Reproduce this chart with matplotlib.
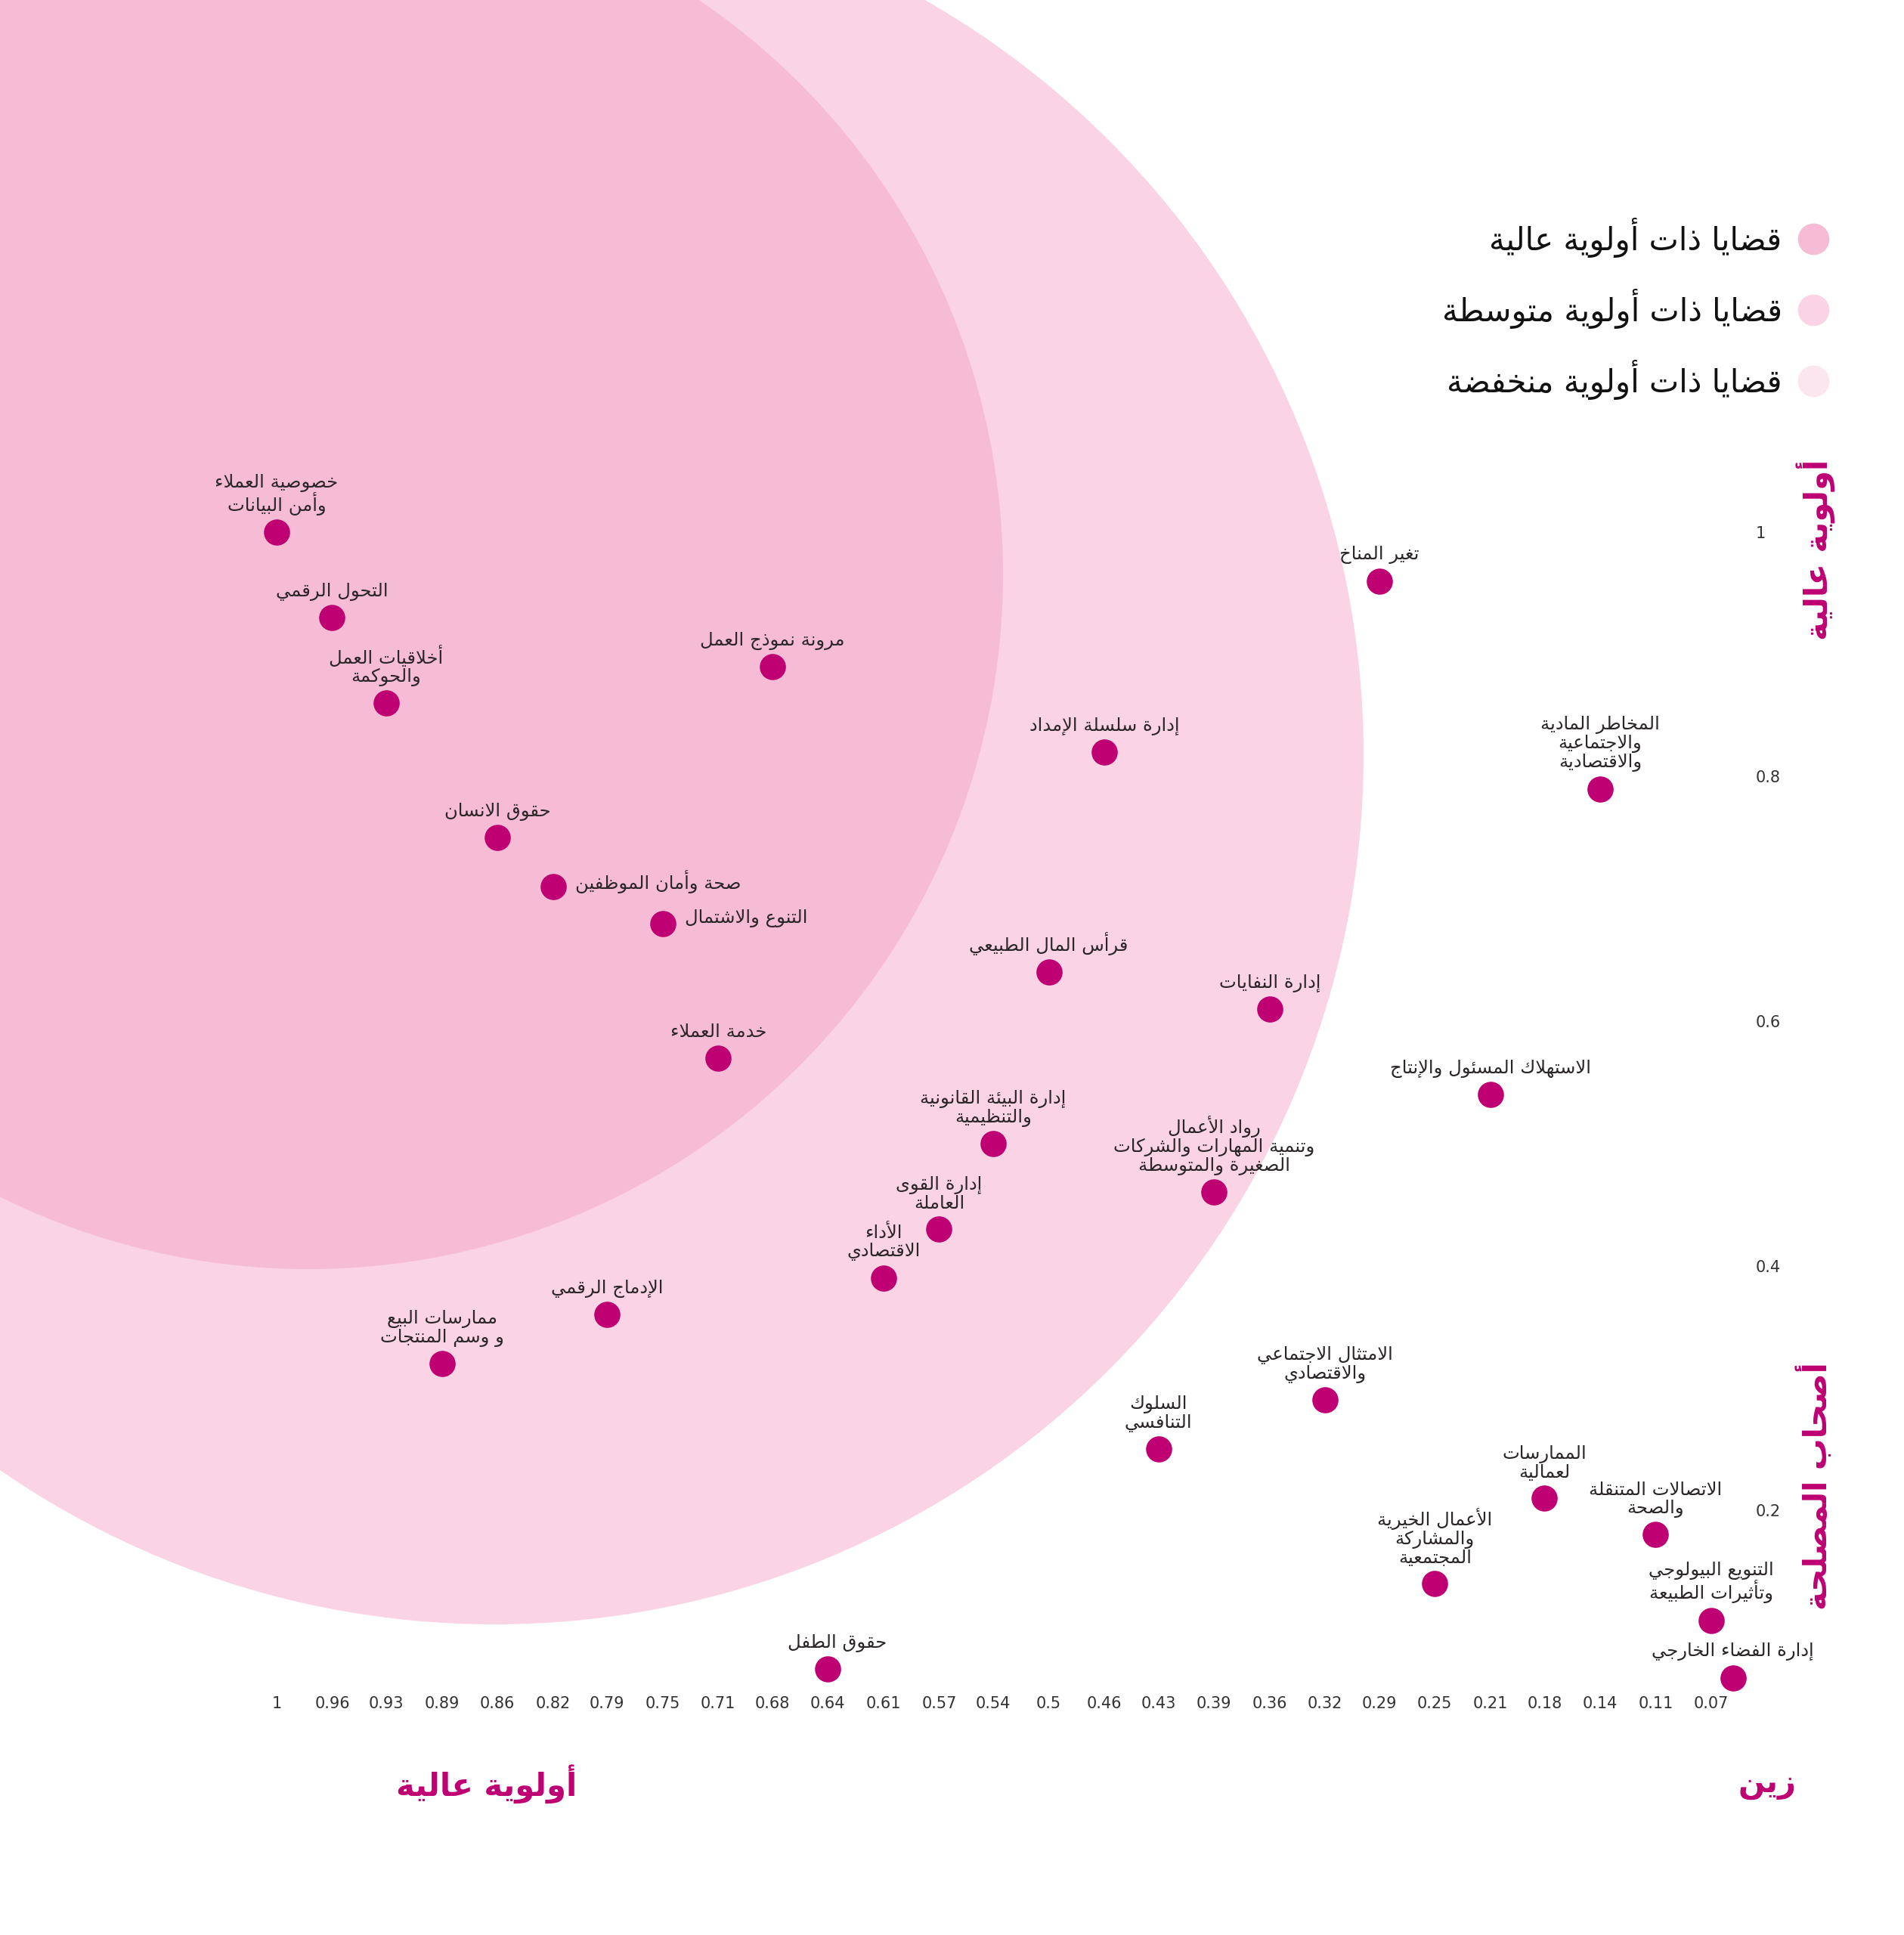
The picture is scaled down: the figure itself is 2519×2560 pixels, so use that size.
import matplotlib
matplotlib.use('Agg')
import matplotlib.pyplot as plt
from matplotlib.patches import Ellipse
from matplotlib.lines import Line2D

plt.rcParams['font.family'] = ['DejaVu Sans']

#%% data: materiality matrix (x = importance to Zain, y = importance to stakeholders)
issues = [
    'خصوصية العملاء\nوأمن البيانات',
    'التحول الرقمي',
    'أخلاقيات العمل\nوالحوكمة',
    'ممارسات البيع\nو وسم المنتجات',
    'حقوق الانسان',
    'صحة وأمان الموظفين',
    'الإدماج الرقمي',
    'التنوع والاشتمال',
    'خدمة العملاء',
    'مرونة نموذج العمل',
    'حقوق الطفل',
    'الأداء\nالاقتصادي',
    'إدارة القوى\nالعاملة',
    'إدارة البيئة القانونية\nوالتنظيمية',
    'قرأس المال الطبيعي',
    'إدارة سلسلة الإمداد',
    'السلوك\nالتنافسي',
    'رواد الأعمال\nوتنمية المهارات والشركات\nالصغيرة والمتوسطة',
    'إدارة النفايات',
    'الامتثال الاجتماعي\nوالاقتصادي',
    'تغير المناخ',
    'الأعمال الخيرية\nوالمشاركة\nالمجتمعية',
    'الاستهلاك المسئول والإنتاج',
    'الممارسات\nلعمالية',
    'المخاطر المادية\nوالاجتماعية\nوالاقتصادية',
    'الاتصالات المتنقلة\nوالصحة',
    'التنويع البيولوجي\nوتأثيرات الطبيعة',
    'إدارة الفضاء الخارجي',
]
zain = [1.0, 0.964, 0.929, 0.893, 0.857, 0.821, 0.786, 0.75, 0.714, 0.679,
        0.643, 0.607, 0.571, 0.536, 0.5, 0.464, 0.429, 0.393, 0.357, 0.321,
        0.286, 0.25, 0.214, 0.179, 0.143, 0.107, 0.071, 0.057]
stakeholders = [1.0, 0.93, 0.86, 0.32, 0.75, 0.71, 0.36, 0.68, 0.57, 0.89,
                0.07, 0.39, 0.43, 0.50, 0.64, 0.82, 0.25, 0.46, 0.61, 0.29,
                0.96, 0.14, 0.54, 0.21, 0.79, 0.18, 0.11, 0.063]

x_ticks = [1.0, 0.964, 0.929, 0.893, 0.857, 0.821, 0.786, 0.75, 0.714, 0.679,
           0.643, 0.607, 0.571, 0.536, 0.5, 0.464, 0.429, 0.393, 0.357, 0.321,
           0.286, 0.25, 0.214, 0.179, 0.143, 0.107, 0.071]
x_tick_labels = ['1', '0.96', '0.93', '0.89', '0.86', '0.82', '0.79', '0.75', '0.71',
                 '0.68', '0.64', '0.61', '0.57', '0.54', '0.5', '0.46', '0.43', '0.39',
                 '0.36', '0.32', '0.29', '0.25', '0.21', '0.18', '0.14', '0.11', '0.07']
y_ticks = [1.0, 0.8, 0.6, 0.4, 0.2]
y_tick_labels = ['1', '0.8', '0.6', '0.4', '0.2']

legend_labels = ['قضايا ذات أولوية عالية', 'قضايا ذات أولوية متوسطة', 'قضايا ذات أولوية منخفضة']

# labels drawn to the right of the dot instead of above
right_side = ['صحة وأمان الموظفين', 'التنوع والاشتمال']

DOT = '#be0072'
HIGH = '#f7bcd5'
MED = '#fad3e4'
LOW = '#fbe5ef'
TXT = '#2b2628'

#%% minimal arabic shaping (matplotlib has no RTL / joining support)
FORMS = {
    'ء': (0xFE80, 1), 'آ': (0xFE81, 2), 'أ': (0xFE83, 2), 'ؤ': (0xFE85, 2),
    'إ': (0xFE87, 2), 'ئ': (0xFE89, 4), 'ا': (0xFE8D, 2), 'ب': (0xFE8F, 4),
    'ة': (0xFE93, 2), 'ت': (0xFE95, 4), 'ث': (0xFE99, 4), 'ج': (0xFE9D, 4),
    'ح': (0xFEA1, 4), 'خ': (0xFEA5, 4), 'د': (0xFEA9, 2), 'ذ': (0xFEAB, 2),
    'ر': (0xFEAD, 2), 'ز': (0xFEAF, 2), 'س': (0xFEB1, 4), 'ش': (0xFEB5, 4),
    'ص': (0xFEB9, 4), 'ض': (0xFEBD, 4), 'ط': (0xFEC1, 4), 'ظ': (0xFEC5, 4),
    'ع': (0xFEC9, 4), 'غ': (0xFECD, 4), 'ف': (0xFED1, 4), 'ق': (0xFED5, 4),
    'ك': (0xFED9, 4), 'ل': (0xFEDD, 4), 'م': (0xFEE1, 4), 'ن': (0xFEE5, 4),
    'ه': (0xFEE9, 4), 'و': (0xFEED, 2), 'ى': (0xFEEF, 2), 'ي': (0xFEF1, 4),
}
LAM_ALEF = {'آ': 0xFEF5, 'أ': 0xFEF7, 'إ': 0xFEF9, 'ا': 0xFEFB}


def shape_line(s):
    units = []
    i = 0
    while i < len(s):
        if s[i] == 'ل' and i + 1 < len(s) and s[i + 1] in LAM_ALEF:
            units.append((LAM_ALEF[s[i + 1]], 2))
            i += 2
        elif s[i] in FORMS:
            units.append(FORMS[s[i]])
            i += 1
        else:
            units.append((s[i], 0))
            i += 1
    out = []
    for k, (base, n) in enumerate(units):
        if n == 0:
            out.append(base)
            continue
        prev_joins = k > 0 and units[k - 1][1] == 4
        next_ok = k + 1 < len(units) and units[k + 1][1] > 1
        if n == 1:
            idx = 0
        elif n == 2:
            idx = 1 if prev_joins else 0
        else:
            idx = (3 if next_ok else 1) if prev_joins else (2 if next_ok else 0)
        out.append(chr(base + idx))
    return ''.join(reversed(out))


def ar(s):
    return '\n'.join(shape_line(l) for l in s.split('\n'))


#%% figure
W, H = 2519, 2560
fig = plt.figure(figsize=(W / 100, H / 100), dpi=100)
fig.patch.set_facecolor('white')

# axes placed so that tick grid lands where the reference puts it
ax = fig.add_axes([0, (H - 2225) / H, 2300 / W, 2225 / H])
ax.set_xlim(1.1791, 0.0534)
ax.set_ylim(0.0597, 1.4352)
for sp in ax.spines.values():
    sp.set_visible(False)
ax.set_facecolor('none')

# priority zones (circles in pixel space)
for (cx, cy, r), col in [((654, 999, 1150), MED), ((408, 760, 919), HIGH)]:
    ax.add_patch(Ellipse((cx / W, 1 - cy / H), 2 * r / W, 2 * r / H,
                         transform=fig.transFigure, facecolor=col,
                         edgecolor='none', zorder=0))

ax.scatter(zain, stakeholders, s=620, color=DOT, zorder=3, clip_on=False,
           linewidths=0)

for name, x, y in zip(issues, zain, stakeholders):
    if name in right_side:
        ax.annotate(ar(name), (x, y), xytext=(21, 5), textcoords='offset points',
                    ha='left', va='center', fontsize=17.5, color=TXT)
    else:
        dx = 9 if name == 'حقوق الطفل' else 0
        ax.annotate(ar(name), (x, y), xytext=(dx, 16), textcoords='offset points',
                    ha='center', va='bottom', fontsize=17.5, color=TXT,
                    linespacing=1.0)

ax.set_xticks(x_ticks)
ax.set_xticklabels(x_tick_labels)
ax.set_yticks(y_ticks)
ax.set_yticklabels(y_tick_labels)
ax.yaxis.tick_right()
ax.tick_params(axis='x', length=0, pad=14, labelsize=15, labelcolor='#333333')
ax.tick_params(axis='y', length=0, pad=16, labelsize=15, labelcolor='#333333')

# axis titles
fig.text(644 / W, 1 - 2360 / H, ar('أولوية عالية'), ha='center', va='center',
         fontsize=30, fontweight='bold', color=DOT)
fig.text(2338 / W, 1 - 2360 / H, ar('زين'), ha='center', va='center',
         fontsize=30, fontweight='bold', color=DOT)
fig.text(2402 / W, 1 - 727 / H, ar('أولوية عالية'), ha='center', va='center',
         rotation=90, fontsize=30, fontweight='bold', color=DOT)
fig.text(2402 / W, 1 - 1966 / H, ar('أصحاب المصلحة'), ha='center', va='center',
         rotation=90, fontsize=30, fontweight='bold', color=DOT)

# legend
handles = [Line2D([], [], marker='o', linestyle='none', markersize=30,
                  markerfacecolor=c, markeredgecolor='none') for c in (HIGH, MED, LOW)]
fig.legend(handles, [ar(l) for l in legend_labels], loc='upper right',
           bbox_to_anchor=(2418 / W, 1 - 288 / H), bbox_transform=fig.transFigure,
           markerfirst=False, frameon=False, fontsize=30, handlelength=0.9,
           handletextpad=0.55, labelspacing=0.98, borderpad=0, borderaxespad=0,
           labelcolor='#111111')

fig.savefig('out.png', dpi=100, facecolor='white')
